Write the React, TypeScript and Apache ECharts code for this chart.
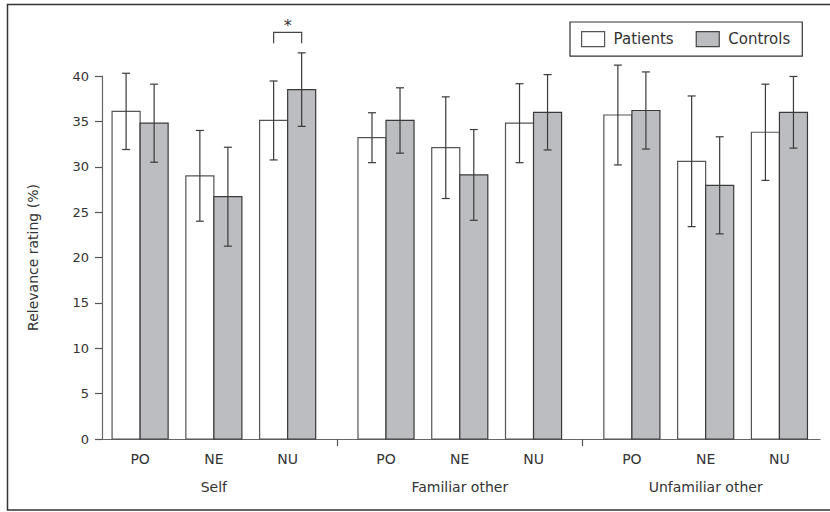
import React, { useEffect, useRef } from "react";
import * as echarts from "echarts";

const groups = ["Self", "Familiar other", "Unfamiliar other"];
const conditions = ["PO", "NE", "NU"];
const seriesNames = ["Patients", "Controls"];
const patientsMean = [36.1, 29.0, 35.1, 33.2, 32.1, 34.8, 35.7, 30.6, 33.8];
const patientsErr = [4.2, 5.0, 4.35, 2.75, 5.6, 4.35, 5.5, 7.2, 5.3];
const controlsMean = [34.8, 26.7, 38.5, 35.1, 29.1, 36.0, 36.2, 27.95, 36.0];
const controlsErr = [4.3, 5.45, 4.05, 3.6, 5.0, 4.15, 4.25, 5.35, 3.95];
const significantPairs = [2];
const significanceLabel = "*";
const yTicks = [0, 5, 10, 15, 20, 25, 30, 35, 40];

const FONT = "DejaVu Sans";

// layout helpers (positions on hidden numeric x scale)
const STEP = 3;
const GROUP_STEP = 10;
const pos = (g: number, c: number) => g * GROUP_STEP + c * STEP;
const centers: number[] = [];
const condLabelMap: Record<number, string> = {};
groups.forEach((_, g) =>
  conditions.forEach((c, ci) => {
    centers.push(pos(g, ci));
    condLabelMap[pos(g, ci)] = c;
  })
);
const groupCenters = groups.map((_, g) => pos(g, 1));
const groupLabelMap: Record<number, string> = {};
groups.forEach((gName, g) => (groupLabelMap[pos(g, 1)] = gName));
const separators = groups.slice(1).map((_, g) => (pos(g, 2) + pos(g + 1, 0)) / 2);

const BAR_UNITS = 1.14;

function makeSeries(si: number, means: number[], errs: number[], fill: string, border: string) {
  return {
    type: "custom",
    name: seriesNames[si],
    clip: false,
    data: means.map((m, i) => [centers[i], m, errs[i]]),
    itemStyle: { color: fill, borderColor: border, borderWidth: 1.2 },
    renderItem: (params: any, api: any) => {
      const x = api.value(0);
      const v = api.value(1);
      const e = api.value(2);
      const base = api.coord([x, 0]);
      const top = api.coord([x, v]);
      const w = api.size([BAR_UNITS, 0])[0];
      const x0 = si === 0 ? base[0] - w : base[0];
      const cx = x0 + w / 2;
      const eTop = api.coord([x, v + e])[1];
      const eBot = api.coord([x, v - e])[1];
      const cap = 4;
      const errStyle = { stroke: "#3a3a3a", lineWidth: 1.2 };
      return {
        type: "group",
        children: [
          {
            type: "rect",
            shape: { x: x0, y: top[1], width: w, height: base[1] - top[1] },
            style: { fill, stroke: border, lineWidth: 1.2 },
          },
          { type: "line", shape: { x1: cx, y1: eTop, x2: cx, y2: eBot }, style: errStyle },
          { type: "line", shape: { x1: cx - cap, y1: eTop, x2: cx + cap, y2: eTop }, style: errStyle },
          { type: "line", shape: { x1: cx - cap, y1: eBot, x2: cx + cap, y2: eBot }, style: errStyle },
        ],
      };
    },
  };
}

export default function App() {
  const ref = useRef<HTMLDivElement>(null);
  useEffect(() => {
    if (!ref.current) return;
    const chart = echarts.init(ref.current, undefined, { renderer: "svg" });
    const sigData = significantPairs.map((i) => [
      centers[i],
      Math.max(patientsMean[i] + patientsErr[i], controlsMean[i] + controlsErr[i]),
    ]);
    const option: any = {
      animation: false,
      backgroundColor: "#fff",
      textStyle: { fontFamily: FONT },
      grid: { left: 102, right: 10, top: 76, bottom: 73, containLabel: false },
      legend: {
        data: seriesNames.map((n, i) => ({
          name: n,
          icon: "rect",
          itemStyle:
            i === 0
              ? { color: "#ffffff", borderColor: "#555", borderWidth: 1.2 }
              : { color: "#bcbdc1", borderColor: "#444", borderWidth: 1.2 },
        })),
        left: 570,
        top: 22,
        padding: [9, 12, 9, 11],
        itemWidth: 23,
        itemHeight: 15,
        itemGap: 22,
        borderColor: "#333",
        borderWidth: 1.2,
        textStyle: { fontFamily: FONT, fontSize: 15, color: "#333", padding: [0, 0, 0, 4] },
        selectedMode: false,
      },
      xAxis: [
        {
          type: "value",
          min: -1.55,
          max: 27.65,
          position: "bottom",
          splitLine: { show: false },
          axisLine: { show: true, onZero: false, lineStyle: { color: "#666", width: 1.2 } },
          axisTick: {
            show: true,
            customValues: separators,
            length: 7,
            lineStyle: { color: "#555", width: 1.2 },
          },
          axisLabel: {
            customValues: centers,
            formatter: (v: number) => condLabelMap[Math.round(v)] ?? "",
            margin: 13,
            fontSize: 14,
            color: "#333",
            fontFamily: FONT,
          },
        },
        {
          type: "value",
          min: -1.55,
          max: 27.65,
          position: "bottom",
          splitLine: { show: false },
          axisLine: { show: false, onZero: false },
          axisTick: { show: false },
          axisLabel: {
            customValues: groupCenters,
            formatter: (v: number) => groupLabelMap[Math.round(v)] ?? "",
            margin: 41,
            fontSize: 14,
            color: "#333",
            fontFamily: FONT,
          },
        },
      ],
      yAxis: {
        type: "value",
        min: 0,
        max: 40,
        interval: 5,
        position: "left",
        name: "Relevance rating (%)",
        nameLocation: "middle",
        nameRotate: 90,
        nameGap: 62,
        nameTextStyle: { fontSize: 14, color: "#333", fontFamily: FONT },
        splitLine: { show: false },
        axisLine: { show: true, onZero: false, lineStyle: { color: "#666", width: 1.2 } },
        axisTick: { show: true, length: 7, lineStyle: { color: "#555", width: 1.2 } },
        axisLabel: {
          margin: 13,
          fontSize: 13,
          color: "#333",
          fontFamily: FONT,
          formatter: (v: number) => (yTicks.includes(v) ? String(v) : ""),
        },
      },
      series: [
        makeSeries(0, patientsMean, patientsErr, "#ffffff", "#555"),
        makeSeries(1, controlsMean, controlsErr, "#bcbdc1", "#3a3a3a"),
        {
          type: "custom",
          name: "sig",
          clip: false,
          silent: true,
          data: sigData,
          renderItem: (params: any, api: any) => {
            const x = api.value(0);
            const topVal = api.value(1);
            const w = api.size([BAR_UNITS, 0])[0];
            const c = api.coord([x, topVal]);
            const yLeg = c[1] - 9.5;
            const yTop = c[1] - 20.5;
            const xl = c[0] - w / 2;
            const xr = c[0] + w / 2;
            const st = { stroke: "#444", lineWidth: 1.2, fill: "none" };
            return {
              type: "group",
              children: [
                {
                  type: "polyline",
                  shape: { points: [[xl, yLeg], [xl, yTop], [xr, yTop], [xr, yLeg]] },
                  style: st,
                },
                {
                  type: "text",
                  style: {
                    x: c[0],
                    y: yTop + 1,
                    text: significanceLabel,
                    fontSize: 16,
                    fontFamily: FONT,
                    fill: "#333",
                    align: "center",
                    verticalAlign: "bottom",
                  },
                },
              ],
            };
          },
        },
      ],
      graphic: [
        {
          type: "rect",
          shape: { x: 7.5, y: 4.5, width: 830, height: 505.5 },
          style: { fill: "none", stroke: "#333", lineWidth: 1.5 },
          silent: true,
        },
      ],
    };
    chart.setOption(option);
    return () => chart.dispose();
  }, []);
  return (
    <div
      ref={ref}
      style={{ position: "fixed", left: 0, top: 0, width: 830, height: 512 }}
    />
  );
}
